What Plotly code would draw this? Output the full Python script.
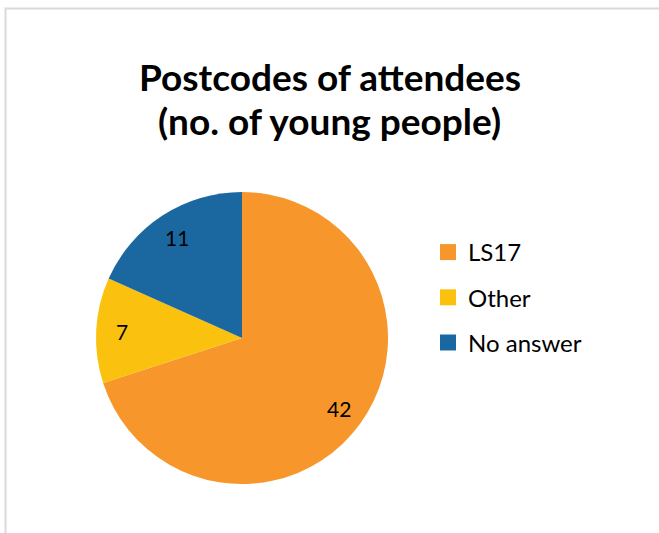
import math
import plotly.graph_objects as go

labels = ["LS17", "Other", "No answer"]
values = [42, 7, 11]
colors = ["#F7962B", "#FAC20E", "#1B68A1"]
title_lines = ["Postcodes of attendees", "(no. of young people)"]

W, H = 659, 533
CX, CY, R = 242, 338, 146  # pie centre / radius in pixels
LABEL_R = 0.82

fig = go.Figure()

fig.add_trace(go.Pie(
    labels=labels, values=values, sort=False, direction="clockwise", rotation=0,
    marker=dict(colors=colors, line=dict(width=0)),
    textinfo="none", showlegend=False, hoverinfo="label+value",
    domain=dict(x=[(CX - R) / W, (CX + R) / W], y=[(H - CY - R) / H, (H - CY + R) / H]),
))

for i, (lab, col) in enumerate(zip(labels, colors)):
    fig.add_trace(go.Scatter(
        x=[None], y=[None], mode="markers", name=lab,
        marker=dict(symbol="square", size=16, color=col),
        legendgroup=f"g{i}", showlegend=True,
    ))

annotations = []
total = sum(values)
cum = 0.0
for v in values:
    mid = (cum + v / 2) / total * 2 * math.pi
    cum += v
    px = CX + LABEL_R * R * math.sin(mid)
    py = CY - LABEL_R * R * math.cos(mid)
    annotations.append(dict(
        x=px / W, y=(H - py) / H, xref="paper", yref="paper",
        text=str(v), showarrow=False, xanchor="center", yanchor="middle",
        font=dict(family="Lato", size=21, color="#000000"),
    ))

title_centres = [77, 121]
for line, yc in zip(title_lines, title_centres):
    annotations.append(dict(
        x=0.5, y=(H - yc) / H, xref="paper", yref="paper",
        text="<b>" + line + "</b>", showarrow=False, xanchor="center", yanchor="middle",
        font=dict(family="Lato", size=37, color="#000000"),
    ))

fig.update_layout(
    width=W, height=H,
    margin=dict(l=0, r=0, t=0, b=0),
    paper_bgcolor="white", plot_bgcolor="white",
    xaxis=dict(visible=False), yaxis=dict(visible=False),
    annotations=annotations,
    legend=dict(
        x=428 / W, xanchor="left", y=(H - 230) / H, yanchor="top",
        font=dict(family="Lato", size=24, color="#000000"),
        tracegroupgap=11, itemclick=False,
    ),
    shapes=[dict(
        type="rect", xref="paper", yref="paper",
        x0=5.5 / W, x1=1.05, y0=-0.05, y1=(H - 8.5) / H,
        line=dict(color="#D9D9D9", width=2), layer="below",
    )],
)

fig.write_html("out.html")
